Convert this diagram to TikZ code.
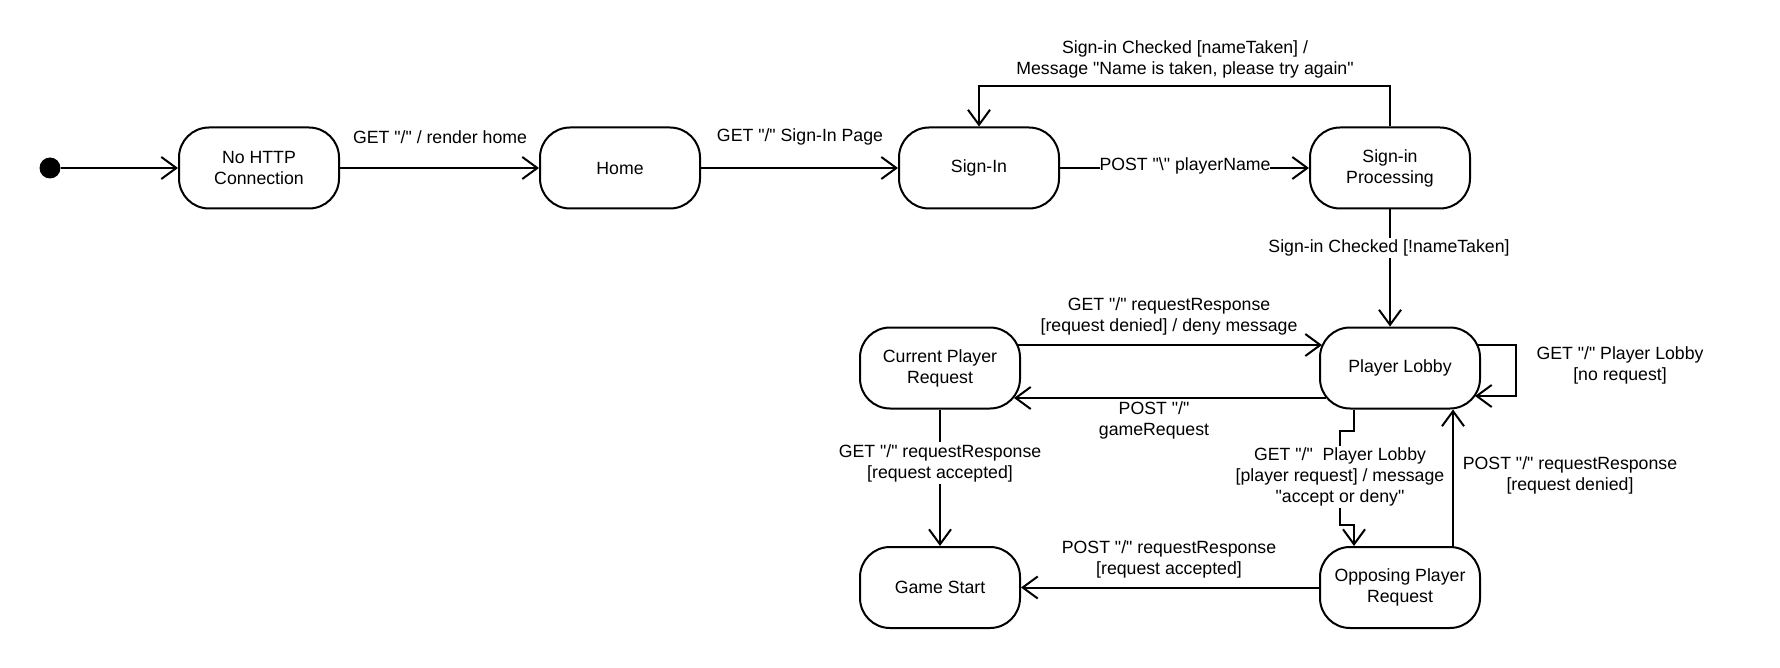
\documentclass[tikz,border=0pt]{standalone}
\usepackage{fontspec}
\newfontfamily\diafont{Liberation Sans}
\usetikzlibrary{arrows.meta,calc}
\tikzset{
  statebox/.style={draw, line width=2pt, rounded corners=30pt, minimum width=160pt, minimum height=81pt, align=center, inner sep=2pt},
  tr/.style={draw, line width=2pt, -{Straight Barb[length=15pt,width=22pt,line width=2pt]}},
  lbl/.style={align=center, inner sep=1pt},
  lblw/.style={align=center, inner sep=2pt, fill=white},
}
\begin{document}
\begin{tikzpicture}[x=1pt,y=-1pt,font=\diafont\fontsize{17.7}{21}\selectfont]
\useasboundingbox (0,0) rectangle (1780,668);
% states
\node[circle, fill, minimum size=21pt, inner sep=0pt] (init) at (50,168) {};
\node[statebox] (nohttp) at (259,168) {No HTTP\\Connection};
\node[statebox] (home) at (620,168) {Home};
\node[statebox] (signin) at (979,168) {Sign-In};
\node[statebox] (proc) at (1390,168) {Sign-in\\Processing};
\node[statebox] (cpr) at (940,368) {Current Player\\Request};
\node[statebox] (lobby) at (1400,368) {Player Lobby};
\node[statebox] (game) at (940,587.5) {Game Start};
\node[statebox] (opp) at (1400,587.5) {Opposing Player\\Request};
% transitions
\draw[tr] (init) -- (nohttp);
\draw[tr] (nohttp) -- (home);
\node[lbl] (l1) at (440,137) {GET "/" / render home};
\draw[tr] (home) -- (signin);
\node[lbl] (l2) at (800,137) {GET "/" Sign-In Page};
\draw[tr] (signin) -- (proc);
\node[lblw, inner sep=0pt] (l3) at (1185,166) {POST "\textbackslash" playerName};
\draw[tr] (proc.north) -- ++(0,-40.5) -| (signin.north);
\node[lbl] (l4) at (1185,59) {Sign-in Checked {[}nameTaken{]} /\\Message "Name is taken, please try again"};
\draw[tr] (proc.south) -- (proc.south |- lobby.north);
\node[lblw] (l5) at (1389,248) {Sign-in Checked {[}!nameTaken{]}};
\draw[tr] ([xshift=-3pt,yshift=23pt]cpr.east) -- ([xshift=3pt,yshift=23pt]lobby.west);
\node[lbl] (l6) at (1169,316) {GET "/" requestResponse\\{[}request denied{]} / deny message};
\draw[tr] ([xshift=7pt,yshift=-30pt]lobby.west) -- ([xshift=-7pt,yshift=-30pt]cpr.east);
\node[lbl] (l7) at (1154,420) {POST "/"\\gameRequest};
\draw[tr] ([xshift=-3pt,yshift=23pt]lobby.east) -- ++(38,0) |- ([xshift=-6pt,yshift=-28pt]lobby.east);
\node[lbl] (l8) at (1620,365) {GET "/" Player Lobby\\{[}no request{]}};
\draw[tr] (cpr.south) -- (game.north);
\node[lblw] (l9) at (940,463) {GET "/" requestResponse\\{[}request accepted{]}};
\draw[tr] ([xshift=-46pt]lobby.south) -- ++(0,21) -- ++(-14,0) -- ++(0,94) -- ++(14,0) -- ([xshift=-46pt]opp.north);
\node[lblw] (l10) at (1340,477) {GET "/"~ Player Lobby\\{[}player request{]} / message\\"accept or deny"};
\draw[tr] ([xshift=53pt]opp.north) -- ([xshift=53pt]lobby.south);
\node[lbl] (l11) at (1570,475) {POST "/" requestResponse\\{[}request denied{]}};
\draw[tr] (opp.west) -- (game.east);
\node[lbl] (l12) at (1169,559) {POST "/" requestResponse\\{[}request accepted{]}};
\end{tikzpicture}
\end{document}
